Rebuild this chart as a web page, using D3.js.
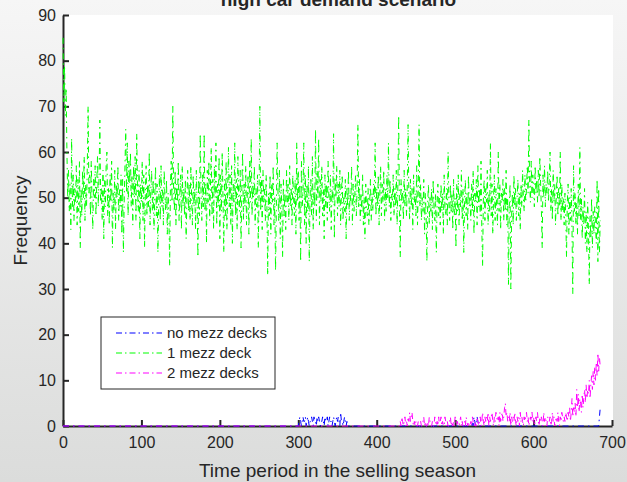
<!DOCTYPE html>
<html>
<head>
<meta charset="utf-8">
<script src="https://cdn.jsdelivr.net/npm/d3@7"></script>
<style>
  html, body { margin: 0; padding: 0; overflow: hidden; }
  text { font-family: "Liberation Sans", Arial, sans-serif; fill: #262626; }
</style>
</head>
<body>
<script>
const colors = {
  ink: "#262626",
  none: "#0000ff",   // no mezz decks
  one: "#00ff00",    // 1 mezz deck
  two: "#ff00ff"     // 2 mezz decks
};

// <----------------------------------------------------------------------------------->
// data: one value per time period, period 0 .. 685
const seriesNames = ["no mezz decks", "1 mezz deck", "2 mezz decks"];
const xTicks = [0, 100, 200, 300, 400, 500, 600, 700];
const yTicks = [0, 10, 20, 30, 40, 50, 60, 70, 80, 90];

const oneMezz = [
  85, 71, 79, 68, 74, 60, 50, 56, 47, 53, 43, 63, 48, 55, 45, 52, 49, 57, 44, 54,
  47, 58, 39, 52, 46, 56, 50, 59, 45, 53, 48, 57, 70, 51, 55, 46, 58, 49, 43, 54,
  50, 57, 46, 53, 59, 48, 55, 67, 49, 52, 45, 56, 41, 54, 48, 57, 60, 46, 52, 44,
  55, 49, 58, 39, 51, 47, 56, 43, 53, 50, 57, 45, 52, 48, 55, 42, 54, 38, 49, 57,
  65, 51, 62, 46, 58, 53, 60, 48, 55, 44, 57, 50, 59, 45, 64, 52, 47, 56, 41, 53,
  49, 58, 45, 55, 39, 51, 57, 46, 53, 48, 60, 44, 52, 56, 47, 54, 43, 50, 57, 46,
  53, 38, 49, 55, 45, 57, 48, 52, 44, 56, 50, 47, 54, 42, 51, 46, 35, 53, 58, 49,
  70, 52, 47, 56, 44, 53, 49, 58, 45, 51, 55, 43, 57, 48, 52, 46, 54, 41, 50, 56,
  47, 53, 45, 57, 50, 44, 55, 48, 52, 43, 56, 49, 37, 54, 46, 64, 51, 45, 55, 48,
  64, 47, 53, 40, 56, 49, 58, 45, 52, 61, 46, 54, 43, 57, 50, 62, 44, 53, 48, 59,
  41, 55, 47, 60, 50, 38, 54, 46, 58, 43, 52, 61, 48, 55, 44, 57, 40, 53, 49, 62,
  46, 54, 43, 59, 50, 47, 56, 39, 52, 60, 45, 53, 48, 57, 44, 51, 55, 42, 58, 49,
  63, 46, 53, 50, 57, 44, 52, 48, 55, 39, 51, 70, 47, 54, 43, 56, 49, 52, 45, 55,
  48, 33, 51, 46, 55, 42, 53, 49, 57, 44, 50, 34, 47, 62, 52, 45, 56, 41, 53, 48,
  37, 54, 46, 51, 43, 56, 49, 53, 45, 57, 48, 52, 44, 55, 50, 46, 54, 42, 62, 49,
  56, 45, 53, 36, 58, 48, 51, 62, 44, 55, 40, 53, 47, 57, 36, 50, 54, 46, 59, 43,
  52, 48, 65, 45, 56, 50, 63, 44, 54, 49, 57, 46, 52, 41, 55, 48, 53, 45, 58, 50,
  47, 55, 43, 52, 49, 64, 41, 54, 50, 57, 46, 53, 48, 56, 44, 51, 55, 45, 50, 47,
  54, 41, 52, 48, 56, 45, 51, 49, 57, 44, 53, 47, 50, 55, 46, 52, 66, 48, 54, 45,
  51, 47, 55, 44, 50, 41, 53, 48, 46, 52, 44, 49, 54, 45, 51, 47, 53, 50, 62, 46,
  52, 48, 55, 44, 51, 57, 46, 53, 49, 56, 45, 52, 47, 55, 50, 62, 48, 54, 45, 51,
  49, 55, 46, 52, 48, 56, 44, 53, 68, 47, 37, 54, 49, 51, 45, 56, 48, 52, 46, 53,
  66, 50, 45, 54, 48, 52, 43, 55, 49, 51, 46, 57, 44, 52, 66, 48, 53, 45, 50, 47,
  54, 42, 51, 46, 36, 49, 53, 44, 50, 47, 52, 43, 54, 48, 45, 51, 38, 49, 53, 46,
  50, 44, 53, 47, 51, 42, 55, 48, 46, 52, 44, 60, 49, 45, 53, 47, 51, 43, 54, 46,
  50, 39, 53, 47, 55, 44, 51, 48, 56, 45, 52, 38, 49, 54, 46, 51, 43, 55, 48, 50,
  45, 53, 47, 56, 42, 51, 49, 54, 44, 57, 48, 52, 46, 58, 43, 35, 50, 54, 45, 52,
  49, 56, 44, 51, 47, 62, 46, 53, 42, 50, 55, 45, 52, 48, 44, 60, 47, 53, 43, 51,
  49, 54, 45, 52, 47, 56, 44, 50, 31, 48, 53, 30, 46, 51, 44, 55, 48, 52, 45, 50,
  54, 46, 51, 43, 53, 48, 56, 50, 47, 55, 49, 52, 57, 51, 67, 53, 49, 58, 50, 55,
  52, 48, 57, 51, 54, 49, 56, 50, 59, 53, 47, 39, 55, 50, 57, 48, 53, 51, 56, 49,
  54, 60, 47, 52, 45, 56, 49, 53, 44, 51, 55, 46, 52, 48, 60, 45, 53, 47, 50, 44,
  51, 46, 37, 49, 53, 42, 50, 45, 52, 43, 29, 57, 47, 51, 44, 49, 42, 53, 46, 61,
  45, 50, 41, 48, 44, 52, 40, 47, 38, 49, 43, 31, 46, 41, 50, 39, 47, 42, 48, 44,
  40, 54, 36, 52, 38, 45
];

const noMezz = [
  0,0,0,0,0,0,0,0,0,0,0,0,0,0,0,0,0,0,0,0,
  0,0,0,0,0,0,0,0,0,0,0,0,0,0,0,0,0,0,0,0,
  0,0,0,0,0,0,0,0,0,0,0,0,0,0,0,0,0,0,0,0,
  0,0,0,0,0,0,0,0,0,0,0,0,0,0,0,0,0,0,0,0,
  0,0,0,0,0,0,0,0,0,0,0,0,0,0,0,0,0,0,0,0,
  0,0,0,0,0,0,0,0,0,0,0,0,0,0,0,0,0,0,0,0,
  0,0,0,0,0,0,0,0,0,0,0,0,0,0,0,0,0,0,0,0,
  0,0,0,0,0,0,0,0,0,0,0,0,0,0,0,0,0,0,0,0,
  0,0,0,0,0,0,0,0,0,0,0,0,0,0,0,0,0,0,0,0,
  0,0,0,0,0,0,0,0,0,0,0,0,0,0,0,0,0,0,0,0,
  0,0,0,0,0,0,0,0,0,0,0,0,0,0,0,0,0,0,0,0,
  0,0,0,0,0,0,0,0,0,0,0,0,0,0,0,0,0,0,0,0,
  0,0,0,0,0,0,0,0,0,0,0,0,0,0,0,0,0,0,0,0,
  0,0,0,0,0,0,0,0,0,0,0,0,0,0,0,0,0,0,0,0,
  0,0,0,0,0,0,0,0,0,0,0,0,0,0,0,0,0,0,0,0,
  0,1,2,1,0,1,2,1,1,2,0,1,2,1,0,1,1,2,1,0,
  2,1,1,0,2,1,2,1,0,1,1,2,1,0,2,1,1,2,0,1,
  2,1,1,0,1,2,1,0,1,2,1,2,1,0,3,1,1,0,1,2,
  1,0,1,0,0,0,0,0,0,0,0,0,0,0,0,0,0,0,0,0,
  0,0,0,0,0,0,0,0,0,0,0,0,0,0,0,0,0,0,0,0,
  0,0,0,0,0,0,0,0,0,0,0,0,0,0,0,0,0,0,0,0,
  0,0,0,0,0,0,0,0,0,0,0,0,0,0,0,0,0,0,0,0,
  0,0,0,0,0,0,0,0,0,0,0,0,0,0,0,0,0,0,0,0,
  0,0,0,0,0,0,0,0,0,0,0,0,0,0,0,0,0,0,0,0,
  0,0,0,0,0,0,0,0,0,0,0,0,0,0,0,0,0,0,0,0,
  0,0,0,0,0,0,0,0,0,0,0,0,0,0,0,0,0,0,0,0,
  0,0,1,0,2,1,0,1,2,1,0,0,0,0,0,0,0,0,0,0,
  0,0,0,0,0,0,0,0,0,0,0,0,0,0,0,0,0,0,0,0,
  0,0,0,0,0,0,0,0,0,0,0,0,0,0,0,0,0,0,0,0,
  0,0,0,0,0,0,0,0,0,0,0,0,0,0,0,0,0,0,0,0,
  0,0,0,0,0,0,0,0,0,0,0,0,0,0,0,0,0,0,0,0,
  0,0,0,0,0,0,0,0,0,0,0,0,0,0,0,0,0,0,0,0,
  0,0,0,0,0,0,0,0,0,0,0,0,0,0,0,0,0,0,0,0,
  0,0,0,0,0,0,0,0,0,0,0,0,0,0,0,0,0,0,0,0,
  0,0,0,0,2,4
];

const twoMezz = [
  0,0,0,0,0,0,0,0,0,0,0,0,0,0,0,0,0,0,0,0,
  0,0,0,0,0,0,0,0,0,0,0,0,0,0,0,0,0,0,0,0,
  0,0,0,0,0,0,0,0,0,0,0,0,0,0,0,0,0,0,0,0,
  0,0,0,0,0,0,0,0,0,0,0,0,0,0,0,0,0,0,0,0,
  0,0,0,0,0,0,0,0,0,0,0,0,0,0,0,0,0,0,0,0,
  0,0,0,0,0,0,0,0,0,0,0,0,0,0,0,0,0,0,0,0,
  0,0,0,0,0,0,0,0,0,0,0,0,0,0,0,0,0,0,0,0,
  0,0,0,0,0,0,0,0,0,0,0,0,0,0,0,0,0,0,0,0,
  0,0,0,0,0,0,0,0,0,0,0,0,0,0,0,0,0,0,0,0,
  0,0,0,0,0,0,0,0,0,0,0,0,0,0,0,0,0,0,0,0,
  0,0,0,0,0,0,0,0,0,0,0,0,0,0,0,0,0,0,0,0,
  0,0,0,0,0,0,0,0,0,0,0,0,0,0,0,0,0,0,0,0,
  0,0,0,0,0,0,0,0,0,0,0,0,0,0,0,0,0,0,0,0,
  0,0,0,0,0,0,0,0,0,0,0,0,0,0,0,0,0,0,0,0,
  0,0,0,0,0,0,0,0,0,0,0,0,0,0,0,0,0,0,0,0,
  0,0,0,0,0,0,0,0,0,0,0,0,0,0,0,0,0,0,0,0,
  0,0,0,0,0,0,0,0,0,0,0,0,0,0,0,0,0,0,0,0,
  0,0,0,0,0,0,0,0,0,0,0,0,0,0,0,0,0,0,0,0,
  0,0,0,0,0,0,0,0,0,0,0,0,0,0,0,0,0,0,0,0,
  0,0,0,0,0,0,0,0,0,0,0,0,0,0,0,0,0,0,0,0,
  0,0,0,0,0,0,0,0,0,0,0,0,0,0,0,0,0,0,0,0,
  0,0,0,0,0,0,0,0,0,0,1,0,2,1,0,1,2,0,1,0,
  2,1,3,1,2,3,1,0,1,0,1,0,0,1,0,0,1,0,0,1,
  2,0,1,0,0,1,0,2,1,0,0,1,0,0,2,1,0,1,0,2,
  0,1,2,0,1,0,0,2,1,0,1,0,0,1,2,0,1,0,1,0,
  2,1,0,1,0,0,1,2,0,1,0,0,1,0,2,1,0,1,0,0,
  1,0,2,1,0,1,0,0,2,1,0,1,2,0,1,3,1,0,2,1,
  2,1,3,0,2,1,2,3,1,0,2,1,3,2,1,2,0,3,1,2,
  3,1,2,4,5,2,3,1,2,1,3,0,2,1,2,1,3,1,0,2,
  1,2,0,3,1,2,1,0,2,1,2,3,1,2,0,1,2,1,3,1,
  2,0,1,2,1,3,1,0,2,1,2,1,0,3,1,2,1,0,2,1,
  1,2,0,1,3,1,2,0,1,2,1,3,1,0,2,1,3,2,1,2,
  1,3,2,1,3,2,4,1,3,6,2,4,3,5,2,8,4,7,3,6,
  5,3,7,4,6,8,5,9,6,8,7,10,6,9,11,8,12,9,13,10,
  14,11,16,12,15,13
];

// <----------------------------------------------------------------------------------->
// dimensions
const W = 627, H = 482;
const plot = { left: 63, right: 612, top: 15, bottom: 426 };

const svg = d3.select("body")
  .append("svg")
  .attr("width", W)
  .attr("height", H);

// figure background (grey gradient like the matlab window)
const grad = svg.append("defs").append("linearGradient")
  .attr("id", "bg").attr("x1", 0).attr("y1", 0).attr("x2", 0).attr("y2", 1);
grad.append("stop").attr("offset", "0%").attr("stop-color", "#f6f6f6");
grad.append("stop").attr("offset", "100%").attr("stop-color", "#dbdcdb");
svg.append("rect").attr("width", W).attr("height", H).attr("fill", "url(#bg)");

// white axes box
svg.append("rect")
  .attr("x", plot.left).attr("y", plot.top)
  .attr("width", plot.right - plot.left + 1)
  .attr("height", plot.bottom - plot.top)
  .attr("fill", "#ffffff");

// scales
const x = d3.scaleLinear().domain([0, 700]).range([plot.left, plot.right]);
const y = d3.scaleLinear().domain([0, 90]).range([plot.bottom, plot.top]);

// axes (ticks point inward)
const gx = svg.append("g")
  .attr("transform", `translate(0,${plot.bottom})`)
  .call(d3.axisBottom(x).tickValues(xTicks).tickSizeInner(-6).tickSizeOuter(0).tickPadding(11));
const gy = svg.append("g")
  .attr("transform", `translate(${plot.left},0)`)
  .call(d3.axisLeft(y).tickValues(yTicks).tickSizeInner(-6).tickSizeOuter(0).tickPadding(7));

[gx, gy].forEach(g => {
  g.select(".domain").attr("stroke", colors.ink).attr("stroke-width", 2);
  g.selectAll(".tick line").attr("stroke", colors.ink).attr("stroke-width", 2);
  g.selectAll(".tick text")
    .style("font-family", '"Liberation Sans", Arial, sans-serif')
    .style("font-size", "16px")
    .attr("fill", colors.ink);
});

// series lines, dash-dot
const line = d3.line()
  .x((d, i) => x(i))
  .y(d => y(d));

const series = [
  { name: seriesNames[0], values: noMezz, color: colors.none },
  { name: seriesNames[1], values: oneMezz, color: colors.one },
  { name: seriesNames[2], values: twoMezz, color: colors.two }
];

svg.append("g")
  .selectAll("path")
  .data(series)
  .enter()
  .append("path")
  .attr("d", d => line(d.values))
  .attr("fill", "none")
  .attr("stroke", d => d.color)
  .attr("stroke-width", 1)
  .attr("stroke-dasharray", "6,4,1.5,4");

// title (cut off by the top of the figure, as in the original)
svg.append("text")
  .attr("x", (plot.left + plot.right) / 2 + 1)
  .attr("y", 6)
  .attr("text-anchor", "middle")
  .style("font-size", "19px")
  .style("font-weight", "bold")
  .text("high car demand scenario");

// axis labels
svg.append("text")
  .attr("x", (plot.left + plot.right) / 2)
  .attr("y", 477)
  .attr("text-anchor", "middle")
  .style("font-size", "19px")
  .text("Time period in the selling season");

svg.append("text")
  .attr("transform", `translate(27,${(plot.top + plot.bottom) / 2}) rotate(-90)`)
  .attr("text-anchor", "middle")
  .style("font-size", "19px")
  .text("Frequency");

// legend
const legend = svg.append("g").attr("transform", "translate(101,317)");
legend.append("rect")
  .attr("width", 174).attr("height", 72)
  .attr("fill", "#ffffff")
  .attr("stroke", colors.ink)
  .attr("stroke-width", 1);

const rows = legend.selectAll(".row")
  .data(series)
  .enter()
  .append("g")
  .attr("class", "row")
  .attr("transform", (d, i) => `translate(0,${16 + i * 20})`);

rows.append("line")
  .attr("x1", 15).attr("x2", 61)
  .attr("stroke", d => d.color)
  .attr("stroke-width", 1.2)
  .attr("stroke-dasharray", "6,3,1.5,3");

rows.append("text")
  .attr("x", 66)
  .attr("y", 5)
  .style("font-size", "15px")
  .text(d => d.name);
</script>
</body>
</html>
